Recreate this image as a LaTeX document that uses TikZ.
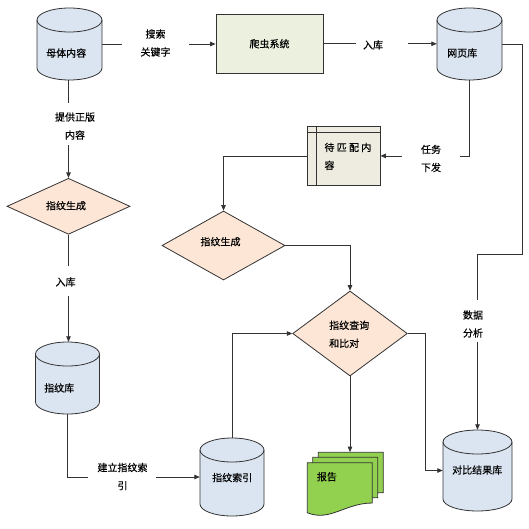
\documentclass[tikz,border=0pt]{standalone}
\usepackage{fontspec}
\setmainfont{Noto Sans CJK SC}[FakeBold=0.3]
\usetikzlibrary{shapes.geometric,arrows.meta}
\definecolor{cylblue}{HTML}{DBE5F1}
\definecolor{boxgreen}{HTML}{EBF1DE}
\definecolor{boxbeige}{HTML}{EEECE1}
\definecolor{dpeach}{HTML}{FDE6D6}
\definecolor{repgreen}{HTML}{92D050}
\definecolor{ln}{HTML}{333333}
\newcommand\mycylinder[4]{% cx, top, bottom, halfwidth
  \path[fill=cylblue, draw=ln, line width=0.8pt]
    (#1-#4,#2+12) -- (#1-#4,#3-12)
    arc[start angle=180, end angle=360, x radius=#4pt, y radius=12pt]
    -- (#1+#4,#2+12)
    arc[start angle=0, end angle=180, x radius=#4pt, y radius=12pt] -- cycle;
  \draw[ln, line width=0.8pt] (#1-#4,#2+12)
    arc[start angle=180, end angle=360, x radius=#4pt, y radius=12pt];
}
\newcommand\mydocsheet[2]{% dx, dy
  \path[fill=repgreen, draw=ln, line width=0.8pt]
    (307.3+#1,462.7+#2) -- (372.3+#1,462.7+#2) -- (372.3+#1,503+#2)
    .. controls (345+#1,503+#2) and (330+#1,522+#2) .. (307.3+#1,512.7+#2) -- cycle;
}
\begin{document}
\begin{tikzpicture}[x=1pt,y=-1pt,
  font=\fontsize{10}{18}\selectfont,
  line/.style={draw=ln, line width=0.8pt},
  arr/.style={line, -{Triangle[length=5.5pt,width=4.5pt]}},
  ghost/.style={draw=none, inner sep=0pt, rectangle},
  lbl/.style={inner sep=0pt, align=center},
  txt/.style={inner sep=0pt, anchor=west, align=left},
  dia/.style={diamond, draw=ln, line width=0.8pt, fill=dpeach, inner sep=0pt},
  procbox/.style={rectangle, draw=ln, line width=0.8pt, inner sep=0pt}
]
\useasboundingbox[fill=white] (0,0) rectangle (529,528);

% cylinders
\mycylinder{69.5}{8}{80}{32.5}
\node[ghost, minimum width=65pt, minimum height=72pt] (mt) at (69.5,44) {};
\node[txt] (tmt) at (46,53) {母体内容};

\mycylinder{469.5}{8}{80}{32.5}
\node[ghost, minimum width=65pt, minimum height=72pt] (web) at (469.5,44) {};
\node[txt] (tweb) at (447,53) {网页库};

\mycylinder{67.5}{342}{414}{32}
\node[ghost, minimum width=64pt, minimum height=72pt] (fplib) at (67.5,378) {};
\node[txt] (tfplib) at (44,388) {指纹库};

\mycylinder{232}{438}{516}{32}
\node[ghost, minimum width=64pt, minimum height=78pt] (fpidx) at (232,477) {};
\node[txt] (tfpidx) at (212,477.6) {指纹索引};

\mycylinder{477.5}{430}{511}{34.5}
\node[ghost, minimum width=69pt, minimum height=81pt] (cmp) at (477.5,470.5) {};
\node[txt] (tcmp) at (452,470) {对比结果库};

% boxes
\node[procbox, fill=boxgreen, minimum width=107pt, minimum height=59pt] (crawler) at (269.5,43.8) {爬虫系统};
\node[procbox, fill=boxbeige, minimum width=72.7pt, minimum height=58.3pt] (wait) at (343.7,155.9) {};
\draw[line] ([xshift=9.4pt]wait.north west) -- ([xshift=9.4pt]wait.south west);
\draw[line] ([yshift=-6pt]wait.north west) -- ([yshift=-6pt]wait.north east);
\node[txt] (twait) at (324.3,156.4) {待 匹 配 内\\容};

% diamonds
\node[dia, minimum width=123pt, minimum height=56pt] (d1) at (68.5,206.3) {};
\node[lbl] (td1) at (66,205.7) {指纹生成};
\node[dia, minimum width=123pt, minimum height=69pt] (d2) at (223.5,245.5) {};
\node[lbl] (td2) at (220.5,241.7) {指纹生成};
\node[dia, minimum width=114.6pt, minimum height=85pt] (d3) at (350,333.5) {};
\node[txt] (td3) at (329,334.3) {指纹查询\\和比对};

% report
\mydocsheet{11}{-10.4}
\mydocsheet{5.4}{-5.4}
\mydocsheet{0}{0}
\node[ghost, minimum width=64pt, minimum height=42pt] (rep) at (350.3,473.3) {};
\node[txt] (trep) at (316.7,476.7) {报告};

% connectors
\draw[arr] (mt.east) -- (mt.east -| crawler.west);
\fill[white] (122,40) rectangle (189,48);
\node[lbl] (l1) at (155.5,43) {搜索\\关键字};

\draw[arr] (crawler.east) -- (crawler.east -| web.west);
\fill[white] (356,40) rectangle (408,48);
\node[lbl] (l2) at (373,45) {入库};

\draw[arr] (web.south) |- (wait.east);
\fill[white] (402,152) rectangle (460,160);
\node[lbl] (l3) at (431,158.5) {任务\\下发};

\coordinate (c4a) at (522,254);
\draw[arr] (web.east) -| (c4a) -| (cmp.north);
\fill[white] (473.5,300) rectangle (481.5,342);
\node[lbl] (l4) at (473,324) {数据\\分析};

\draw[arr] (d1.north |- mt.south) -- (d1.north);
\fill[white] (64.5,103) rectangle (72.5,145);
\node[lbl] (l5) at (75,126) {提供正版\\内容};

\draw[arr] (d1.south) -- (d1.south |- fplib.north);
\fill[white] (64.5,266) rectangle (72.5,296);
\node[lbl] (l6) at (65.5,282) {入库};

\draw[arr] (fplib.south) |- (fpidx.west);
\fill[white] (88,473) rectangle (156,481);
\node[lbl] (l7) at (122.5,476.5) {建立指纹索\\引};

\draw[arr] (wait.west) -| (d2.north);
\draw[arr] (d2.east) -| (d3.north);
\draw[arr] (fpidx.north) |- (d3.west);
\draw[arr] (d3.south) -- (d3.south |- rep.north);
\coordinate (c12a) at (425.5,400);
\draw[arr] (d3.east) -| (c12a) |- (cmp.west);
\end{tikzpicture}
\end{document}
